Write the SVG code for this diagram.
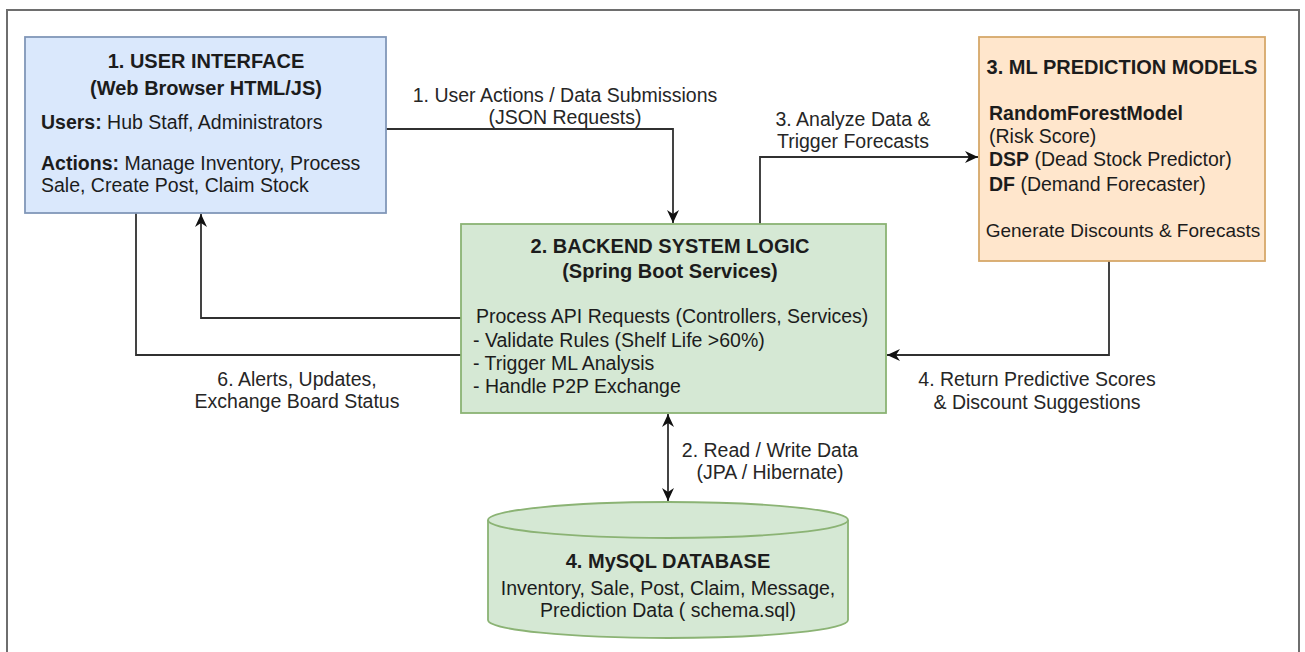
<svg xmlns="http://www.w3.org/2000/svg" width="1305" height="652" viewBox="0 0 1305 652">
  <style>
    text { font-family: "Liberation Sans", Arial, Helvetica, sans-serif; fill: #1c1c1c; }
    .title { font-size: 20px; font-weight: bold; text-anchor: middle; }
    .body { font-size: 19.5px; }
    .b { font-weight: bold; }
    .mid { text-anchor: middle; }
    .lbl { font-size: 19.5px; text-anchor: middle; fill: #262626; }
    .edge { fill: none; stroke: #303030; stroke-width: 1.8; }
  </style>
  <defs>
    <marker id="arrow" markerUnits="userSpaceOnUse" markerWidth="14" markerHeight="12" refX="13" refY="6" orient="auto-start-reverse">
      <path d="M0,0 L13,6 L0,12 L4,6 Z" fill="#111"/>
    </marker>
  </defs>

  <!-- outer frame -->
  <rect x="7" y="10" width="1292" height="680" fill="#ffffff" stroke="#6e6e6e" stroke-width="2"/>

  <!-- connectors -->
  <g id="connectors">
    <!-- 1: UI -> backend -->
    <path class="edge" d="M386,129 H673 V223" marker-end="url(#arrow)"/>
    <!-- 3: backend -> ML -->
    <path class="edge" d="M760,224 V157 H978" marker-end="url(#arrow)"/>
    <!-- 4: ML -> backend -->
    <path class="edge" d="M1109,261 V355 H887" marker-end="url(#arrow)"/>
    <!-- backend -> UI (arrow) -->
    <path class="edge" d="M461,318 H201 V214" marker-end="url(#arrow)"/>
    <!-- 6: backend -> UI -->
    <path class="edge" d="M461,355 H136 V213"/>
    <!-- 2: backend <-> database -->
    <path class="edge" d="M668,414 V501" marker-start="url(#arrow)" marker-end="url(#arrow)"/>

    <text class="lbl" x="565" y="102">1. User Actions / Data Submissions</text>
    <text class="lbl" x="565" y="124">(JSON Requests)</text>
    <text class="lbl" x="853" y="126">3. Analyze Data &amp;</text>
    <text class="lbl" x="853" y="148">Trigger Forecasts</text>
    <text class="lbl" x="1037" y="386">4. Return Predictive Scores</text>
    <text class="lbl" x="1037" y="409">&amp; Discount Suggestions</text>
    <text class="lbl" x="297" y="386">6. Alerts, Updates,</text>
    <text class="lbl" x="297" y="408">Exchange Board Status</text>
    <text class="lbl" x="770" y="457">2. Read / Write Data</text>
    <text class="lbl" x="770" y="479">(JPA / Hibernate)</text>
  </g>

  <!-- 1. user interface -->
  <g id="user-interface">
    <rect x="25" y="37" width="361" height="176" fill="#dae8fc" stroke="#8197b8" stroke-width="1.8"/>
    <text class="title" x="206" y="68">1. USER INTERFACE</text>
    <text class="title" x="206" y="95">(Web Browser HTML/JS)</text>
    <text class="body" x="41" y="129"><tspan class="b">Users:</tspan> Hub Staff, Administrators</text>
    <text class="body" x="41" y="170"><tspan class="b">Actions:</tspan> Manage Inventory, Process</text>
    <text class="body" x="41" y="192">Sale, Create Post, Claim Stock</text>
  </g>

  <!-- 2. backend -->
  <g id="backend">
    <rect x="461" y="224" width="425" height="189" fill="#d5e8d4" stroke="#8bb374" stroke-width="1.8"/>
    <text class="title" x="670" y="253">2. BACKEND SYSTEM LOGIC</text>
    <text class="title" x="670" y="278">(Spring Boot Services)</text>
    <text class="body" x="476" y="323">Process API Requests (Controllers, Services)</text>
    <text class="body" x="473" y="347">- Validate Rules (Shelf Life &gt;60%)</text>
    <text class="body" x="473" y="370">- Trigger ML Analysis</text>
    <text class="body" x="473" y="393">- Handle P2P Exchange</text>
  </g>

  <!-- 3. ML models -->
  <g id="ml-models">
    <rect x="979" y="37" width="286" height="224" fill="#ffe6cc" stroke="#d6a86a" stroke-width="1.8"/>
    <text class="title" x="1122" y="74">3. ML PREDICTION MODELS</text>
    <text class="body b" x="989" y="120">RandomForestModel</text>
    <text class="body" x="989" y="143">(Risk Score)</text>
    <text class="body" x="989" y="166"><tspan class="b">DSP</tspan> (Dead Stock Predictor)</text>
    <text class="body" x="989" y="191"><tspan class="b">DF</tspan> (Demand Forecaster)</text>
    <text class="mid" x="1123" y="237" style="font-size:19px">Generate Discounts &amp; Forecasts</text>
  </g>

  <!-- 4. database -->
  <g id="database">
    <path d="M488,520 A180,18 0 0 1 848,520 L848,620 A180,18 0 0 1 488,620 Z" fill="#d5e8d4" stroke="#8bb374" stroke-width="1.8"/>
    <path d="M488,520 A180,18 0 0 0 848,520" fill="none" stroke="#8bb374" stroke-width="1.8"/>
    <text class="title" x="668" y="568">4. MySQL DATABASE</text>
    <text class="body mid" x="668" y="595">Inventory, Sale, Post, Claim, Message,</text>
    <text class="body mid" x="668" y="617">Prediction Data ( schema.sql)</text>
  </g>
</svg>
